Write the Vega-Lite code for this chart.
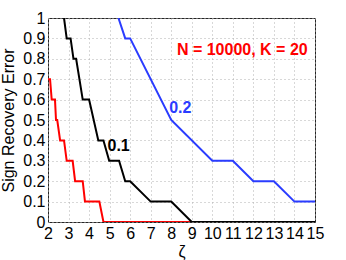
{
  "$schema": "https://vega.github.io/schema/vega-lite/v6.json",
  "width": 267,
  "height": 204,
  "autosize": "none",
  "padding": {"left": 48, "top": 18, "right": 31, "bottom": 38},
  "background": "white",
  "config": {
    "font": "Liberation Sans",
    "view": {"stroke": "#262626", "strokeWidth": 1},
    "axis": {
      "domain": false,
      "ticks": false,
      "labelFont": "Liberation Sans",
      "labelFontSize": 16,
      "labelColor": "#000000",
      "titleFont": "Liberation Sans",
      "titleFontSize": 16,
      "titleFontWeight": "normal",
      "titleColor": "#000000",
      "gridColor": "#b0b0b0",
      "gridDash": [1, 3],
      "gridWidth": 1
    }
  },
  "datasets": {
    "curves": [
      {"series": "0.05", "zeta": 2, "err": 0.7},
      {"series": "0.05", "zeta": 2.1, "err": 0.7},
      {"series": "0.05", "zeta": 2.18, "err": 0.6},
      {"series": "0.05", "zeta": 2.34, "err": 0.6},
      {"series": "0.05", "zeta": 2.39, "err": 0.5},
      {"series": "0.05", "zeta": 2.45, "err": 0.5},
      {"series": "0.05", "zeta": 2.59, "err": 0.4},
      {"series": "0.05", "zeta": 2.78, "err": 0.4},
      {"series": "0.05", "zeta": 2.91, "err": 0.3},
      {"series": "0.05", "zeta": 3.2, "err": 0.3},
      {"series": "0.05", "zeta": 3.32, "err": 0.2},
      {"series": "0.05", "zeta": 3.69, "err": 0.2},
      {"series": "0.05", "zeta": 3.8, "err": 0.1},
      {"series": "0.05", "zeta": 4.5, "err": 0.1},
      {"series": "0.05", "zeta": 4.7, "err": 0},
      {"series": "0.05", "zeta": 15, "err": 0},
      {"series": "0.1", "zeta": 2.78, "err": 1},
      {"series": "0.1", "zeta": 2.91, "err": 0.9},
      {"series": "0.1", "zeta": 3.1, "err": 0.9},
      {"series": "0.1", "zeta": 3.24, "err": 0.8},
      {"series": "0.1", "zeta": 3.37, "err": 0.8},
      {"series": "0.1", "zeta": 3.53, "err": 0.7},
      {"series": "0.1", "zeta": 3.69, "err": 0.6},
      {"series": "0.1", "zeta": 4.0, "err": 0.6},
      {"series": "0.1", "zeta": 4.45, "err": 0.4},
      {"series": "0.1", "zeta": 4.7, "err": 0.4},
      {"series": "0.1", "zeta": 4.98, "err": 0.3},
      {"series": "0.1", "zeta": 5.46, "err": 0.3},
      {"series": "0.1", "zeta": 5.76, "err": 0.2},
      {"series": "0.1", "zeta": 6.0, "err": 0.2},
      {"series": "0.1", "zeta": 7.0, "err": 0.1},
      {"series": "0.1", "zeta": 8.0, "err": 0.1},
      {"series": "0.1", "zeta": 9.0, "err": 0},
      {"series": "0.1", "zeta": 15, "err": 0},
      {"series": "0.2", "zeta": 5.43, "err": 1},
      {"series": "0.2", "zeta": 5.76, "err": 0.9},
      {"series": "0.2", "zeta": 6.0, "err": 0.9},
      {"series": "0.2", "zeta": 8.0, "err": 0.5},
      {"series": "0.2", "zeta": 10.0, "err": 0.3},
      {"series": "0.2", "zeta": 11.0, "err": 0.3},
      {"series": "0.2", "zeta": 12.0, "err": 0.2},
      {"series": "0.2", "zeta": 13.0, "err": 0.2},
      {"series": "0.2", "zeta": 14.0, "err": 0.1},
      {"series": "0.2", "zeta": 15.0, "err": 0.1}
    ],
    "labels": [
      {"series": "0.1", "zeta": 5.44, "err": 0.373, "text": "0.1"},
      {"series": "0.2", "zeta": 8.44, "err": 0.559, "text": "0.2"},
      {"series": "0.05", "zeta": 11.46, "err": 0.843, "text": "N = 10000, K = 20"}
    ]
  },
  "data": {"name": "curves"},
  "encoding": {
    "x": {
      "field": "zeta",
      "type": "quantitative",
      "scale": {"domain": [2, 15], "nice": false, "zero": false},
      "axis": {
        "title": "ζ",
        "values": [2, 3, 4, 5, 6, 7, 8, 9, 10, 11, 12, 13, 14, 15],
        "labelPadding": 3,
        "titlePadding": 2,
        "labelFlush": false,
        "labelOverlap": false,
        "format": "d"
      }
    },
    "y": {
      "field": "err",
      "type": "quantitative",
      "scale": {"domain": [0, 1], "nice": false},
      "axis": {
        "title": "Sign Recovery Error",
        "values": [0, 0.1, 0.2, 0.3, 0.4, 0.5, 0.6, 0.7, 0.8, 0.9, 1],
        "format": "~g",
        "labelPadding": 3,
        "titlePadding": 6,
        "labelFlush": false,
        "labelOverlap": false
      }
    },
    "color": {
      "field": "series",
      "type": "nominal",
      "scale": {"domain": ["0.05", "0.1", "0.2"], "range": ["#ff0000", "#000000", "#2a3cff"]},
      "legend": null
    }
  },
  "layer": [
    {"transform": [{"filter": "datum.series === '0.05'"}], "mark": {"type": "line", "strokeWidth": 2, "clip": true}},
    {"transform": [{"filter": "datum.series === '0.1'"}], "mark": {"type": "line", "strokeWidth": 2, "clip": true}},
    {"transform": [{"filter": "datum.series === '0.2'"}], "mark": {"type": "line", "strokeWidth": 2, "clip": true}},
    {
      "data": {"name": "labels"},
      "mark": {"type": "text", "fontSize": 16, "fontWeight": "bold", "font": "Liberation Sans", "align": "center", "baseline": "middle"},
      "encoding": {"text": {"field": "text"}}
    }
  ]
}
